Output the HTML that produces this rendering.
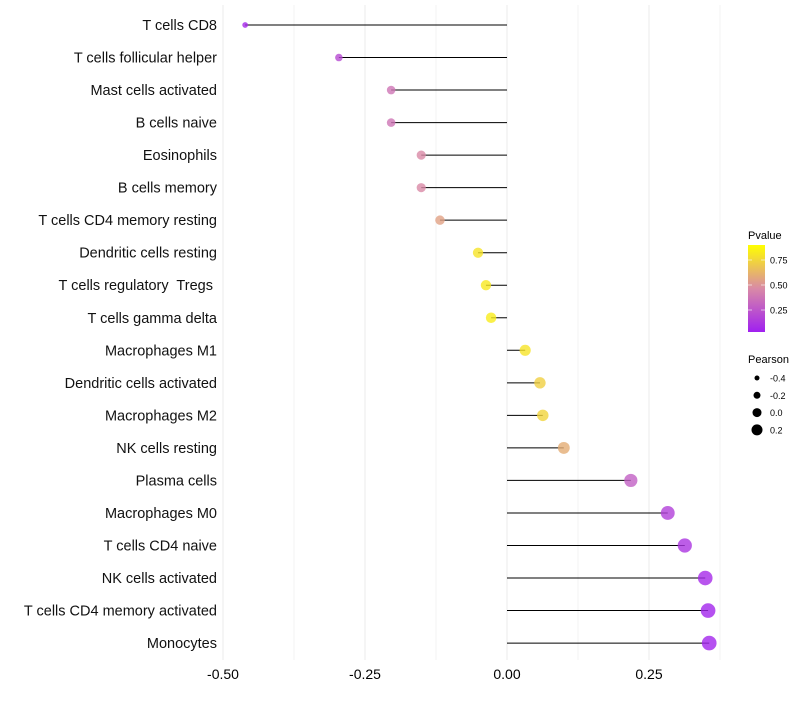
<!DOCTYPE html>
<html><head><meta charset="utf-8"><style>
body{margin:0;background:#fff;font-family:"Liberation Sans",sans-serif}
text{white-space:pre}
</style></head><body>
<svg id="c" width="800" height="700" xmlns="http://www.w3.org/2000/svg">
<defs><linearGradient id="pg" x1="0" y1="1" x2="0" y2="0">
<stop offset="0" stop-color="#a020f0"/><stop offset="0.5" stop-color="#d98aa6"/><stop offset="1" stop-color="#ffff00"/></linearGradient></defs>
</svg>
<script>
const categories=["T cells CD8","T cells follicular helper","Mast cells activated","B cells naive","Eosinophils","B cells memory","T cells CD4 memory resting","Dendritic cells resting","T cells regulatory  Tregs ","T cells gamma delta","Macrophages M1","Dendritic cells activated","Macrophages M2","NK cells resting","Plasma cells","Macrophages M0","T cells CD4 naive","NK cells activated","T cells CD4 memory activated","Monocytes"];
const pearson=[-0.461,-0.296,-0.204,-0.204,-0.151,-0.151,-0.118,-0.051,-0.037,-0.028,0.032,0.058,0.063,0.100,0.218,0.283,0.313,0.349,0.354,0.356];
const pvalue=[0.04,0.2,0.4,0.4,0.5,0.5,0.6,0.88,0.9,0.92,0.88,0.8,0.82,0.65,0.3,0.15,0.1,0.05,0.03,0.03];
const xTicks=[-0.5,-0.25,0,0.25];
const xTickLabels=["-0.50","-0.25","0.00","0.25"];
const pTicks=[0.25,0.5,0.75];
const sizeTicks=[-0.4,-0.2,0.0,0.2];
const NS="http://www.w3.org/2000/svg",svg=document.getElementById('c');
const x=v=>507+v*568, y=i=>25+i*32.53;
const r=v=>Math.max(1.8,5.4+5.5*v);
const lr=v=>4.5+5*v;
function col(p){const t=Math.max(0,Math.min(1,p));const a=[160,32,240],m=[217,138,166],b=[255,255,0];let c;
if(t<0.5){const u=t/0.5;c=a.map((v,k)=>v+(m[k]-v)*u)}else{const u=(t-0.5)/0.5;c=m.map((v,k)=>v+(b[k]-v)*u)}return `rgb(${c.map(Math.round).join(',')})`}
function mk(t,at,p){const e=document.createElementNS(NS,t);for(const k in at)e.setAttribute(k,at[k]);if(p)p.appendChild(e);else svg.appendChild(e);return e}
for(let v=-0.5;v<=0.38;v+=0.125){const g=mk('line',{x1:x(v),x2:x(v),y1:5,y2:660,stroke:'#ebebeb','stroke-width':Math.abs(v*4-Math.round(v*4))<1e-6?1:0.6});

}
xTicks.forEach((v,i)=>{const t=mk('text',{x:x(v),y:679,'text-anchor':'middle','font-size':14,fill:'#000'});t.textContent=xTickLabels[i];

});
categories.forEach((c,i)=>{
const t=mk('text',{x:217,y:y(i)+5,'text-anchor':'end','font-size':14.5,fill:'#111'});t.textContent=c;


const l=mk('line',{x1:x(0),x2:x(pearson[i]),y1:y(i),y2:y(i),stroke:'#000','stroke-width':1});


const d=mk('circle',{cx:x(pearson[i]),cy:y(i),r:r(pearson[i]),fill:col(pvalue[i]),'fill-opacity':0.8});


});
const lt=mk('text',{x:748,y:239,'font-size':11});lt.textContent='Pvalue';


const bar=mk('rect',{x:748,y:245,width:17,height:87,fill:'url(#pg)'});


const py=p=>335-p*100;
pTicks.forEach(p=>{const t=mk('text',{x:770,y:py(p)+3.5,'font-size':9});t.textContent=p.toFixed(2);


mk('line',{x1:748,x2:752,y1:py(p),y2:py(p),stroke:'#fff','stroke-opacity':0.6});
mk('line',{x1:761,x2:765,y1:py(p),y2:py(p),stroke:'#fff','stroke-opacity':0.6});});
const st=mk('text',{x:748,y:363,'font-size':11});st.textContent='Pearson';


sizeTicks.forEach((v,i)=>{const cy=378+i*17.3;
const d=mk('circle',{cx:757,cy:cy,r:lr(v),fill:'#000'});


const t=mk('text',{x:770,y:cy+3.5,'font-size':9});t.textContent=v.toFixed(1);

});
</script>
</body></html>
